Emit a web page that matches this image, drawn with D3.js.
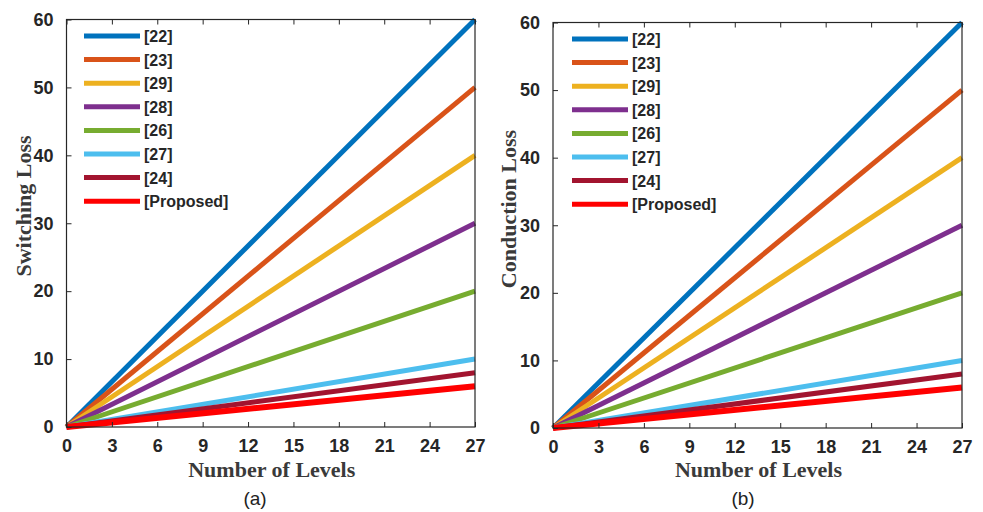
<html>
<head>
<script src="https://d3js.org/d3.v7.min.js"></script>
<style>
body { margin: 0; background: #fff; }
</style>
</head>
<body>
<svg width="983" height="512"></svg>
<script>
// references shown in the legend, in legend order
const refs = ['[22]', '[23]', '[29]', '[28]', '[26]', '[27]', '[24]', '[Proposed]'];
const colors = ['#0072BD', '#D95319', '#EDB120', '#7E2F8E', '#77AC30', '#4DBEEE', '#A2142F', '#FF0000'];
const levels = [0, 27];
// loss at 0 and at 27 levels for each reference
const switchingLoss = [[0, 60], [0, 50], [0, 40], [0, 30], [0, 20], [0, 10], [0, 8], [0, 6]];
const conductionLoss = [[0, 60], [0, 50], [0, 40], [0, 30], [0, 20], [0, 10], [0, 8], [0, 6]];
const xTicks = [0, 3, 6, 9, 12, 15, 18, 21, 24, 27];
const yTicks = [0, 10, 20, 30, 40, 50, 60];

const svg = d3.select('svg');

function panel(cfg) {
    const x = d3.scaleLinear().domain([0, 27]).range([cfg.left, cfg.right]);
    const y = d3.scaleLinear().domain([0, 60]).range([cfg.bottom, cfg.top]);
    const g = svg.append('g');

    // lines
    const line = d3.line().x((d, i) => x(levels[i])).y(d => y(d));
    cfg.values.forEach((vals, k) => {
        g.append('path').datum(vals)
            .attr('fill', 'none')
            .attr('stroke', colors[k])
            .attr('stroke-width', k == 7 ? 6 : 5)
            .attr('d', line);
    });

    // box
    g.append('rect')
        .attr('x', cfg.left).attr('y', cfg.top)
        .attr('width', cfg.right - cfg.left).attr('height', cfg.bottom - cfg.top)
        .attr('fill', 'none').attr('stroke', '#262626').attr('stroke-width', 1.2);

    // axes (ticks inside)
    const bottomAx = g.append('g').attr('transform', `translate(0,${cfg.bottom})`)
        .call(d3.axisBottom(x).tickValues(xTicks).tickSizeInner(-5).tickSizeOuter(0).tickPadding(12));
    const topAx = g.append('g').attr('transform', `translate(0,${cfg.top})`)
        .call(d3.axisTop(x).tickValues(xTicks).tickSizeInner(-5).tickSizeOuter(0).tickFormat(''));
    const leftAx = g.append('g').attr('transform', `translate(${cfg.left},0)`)
        .call(d3.axisLeft(y).tickValues(yTicks).tickSizeInner(-5).tickSizeOuter(0).tickPadding(13));
    [bottomAx, topAx, leftAx].forEach(a => {
        a.select('.domain').remove();
        a.selectAll('line').attr('stroke', '#262626');
        a.selectAll('text')
            .attr('fill', '#262626')
            .style('font-family', 'Liberation Sans, Arial, sans-serif')
            .style('font-weight', 'bold')
            .style('font-size', '18px');
    });

    // axis titles
    g.append('text')
        .attr('x', (cfg.left + cfg.right) / 2 + 1).attr('y', 477)
        .attr('text-anchor', 'middle')
        .attr('fill', '#3a3a3a')
        .style('font-family', 'Liberation Serif, Times New Roman, serif')
        .style('font-weight', 'bold').style('font-size', '22px')
        .text('Number of Levels');
    g.append('text')
        .attr('transform', `translate(${cfg.ytx},${cfg.yty}) rotate(-90)`)
        .attr('text-anchor', 'middle')
        .attr('fill', '#3a3a3a')
        .style('font-family', 'Liberation Serif, Times New Roman, serif')
        .style('font-weight', 'bold').style('font-size', '22px')
        .text(cfg.ytitle);
    g.append('text')
        .attr('x', cfg.capx).attr('y', 505)
        .attr('text-anchor', 'middle')
        .attr('fill', '#222')
        .style('font-family', 'Liberation Sans, Arial, sans-serif')
        .style('font-size', '19px')
        .text(cfg.caption);

    // legend
    const leg = g.append('g');
    refs.forEach((r, k) => {
        const yy = cfg.legTop + k * 23.6;
        leg.append('line')
            .attr('x1', cfg.legX).attr('x2', cfg.legX + 56)
            .attr('y1', yy).attr('y2', yy)
            .attr('stroke', colors[k]).attr('stroke-width', 5);
        leg.append('text')
            .attr('x', cfg.legX + 60).attr('y', yy + 6)
            .attr('fill', '#262626')
            .style('font-family', 'Liberation Sans, Arial, sans-serif')
            .style('font-weight', 'bold').style('font-size', '16px')
            .text(r);
    });
}

panel({ left: 66.5, right: 475, top: 19.5, bottom: 427, values: switchingLoss,
        ytitle: 'Switching Loss', ytx: 31, yty: 206, caption: '(a)', capx: 255,
        legX: 84, legTop: 36 });
panel({ left: 553, right: 962, top: 22.5, bottom: 428, values: conductionLoss,
        ytitle: 'Conduction Loss', ytx: 516, yty: 209, caption: '(b)', capx: 743,
        legX: 572, legTop: 39 });
</script>
</body>
</html>
